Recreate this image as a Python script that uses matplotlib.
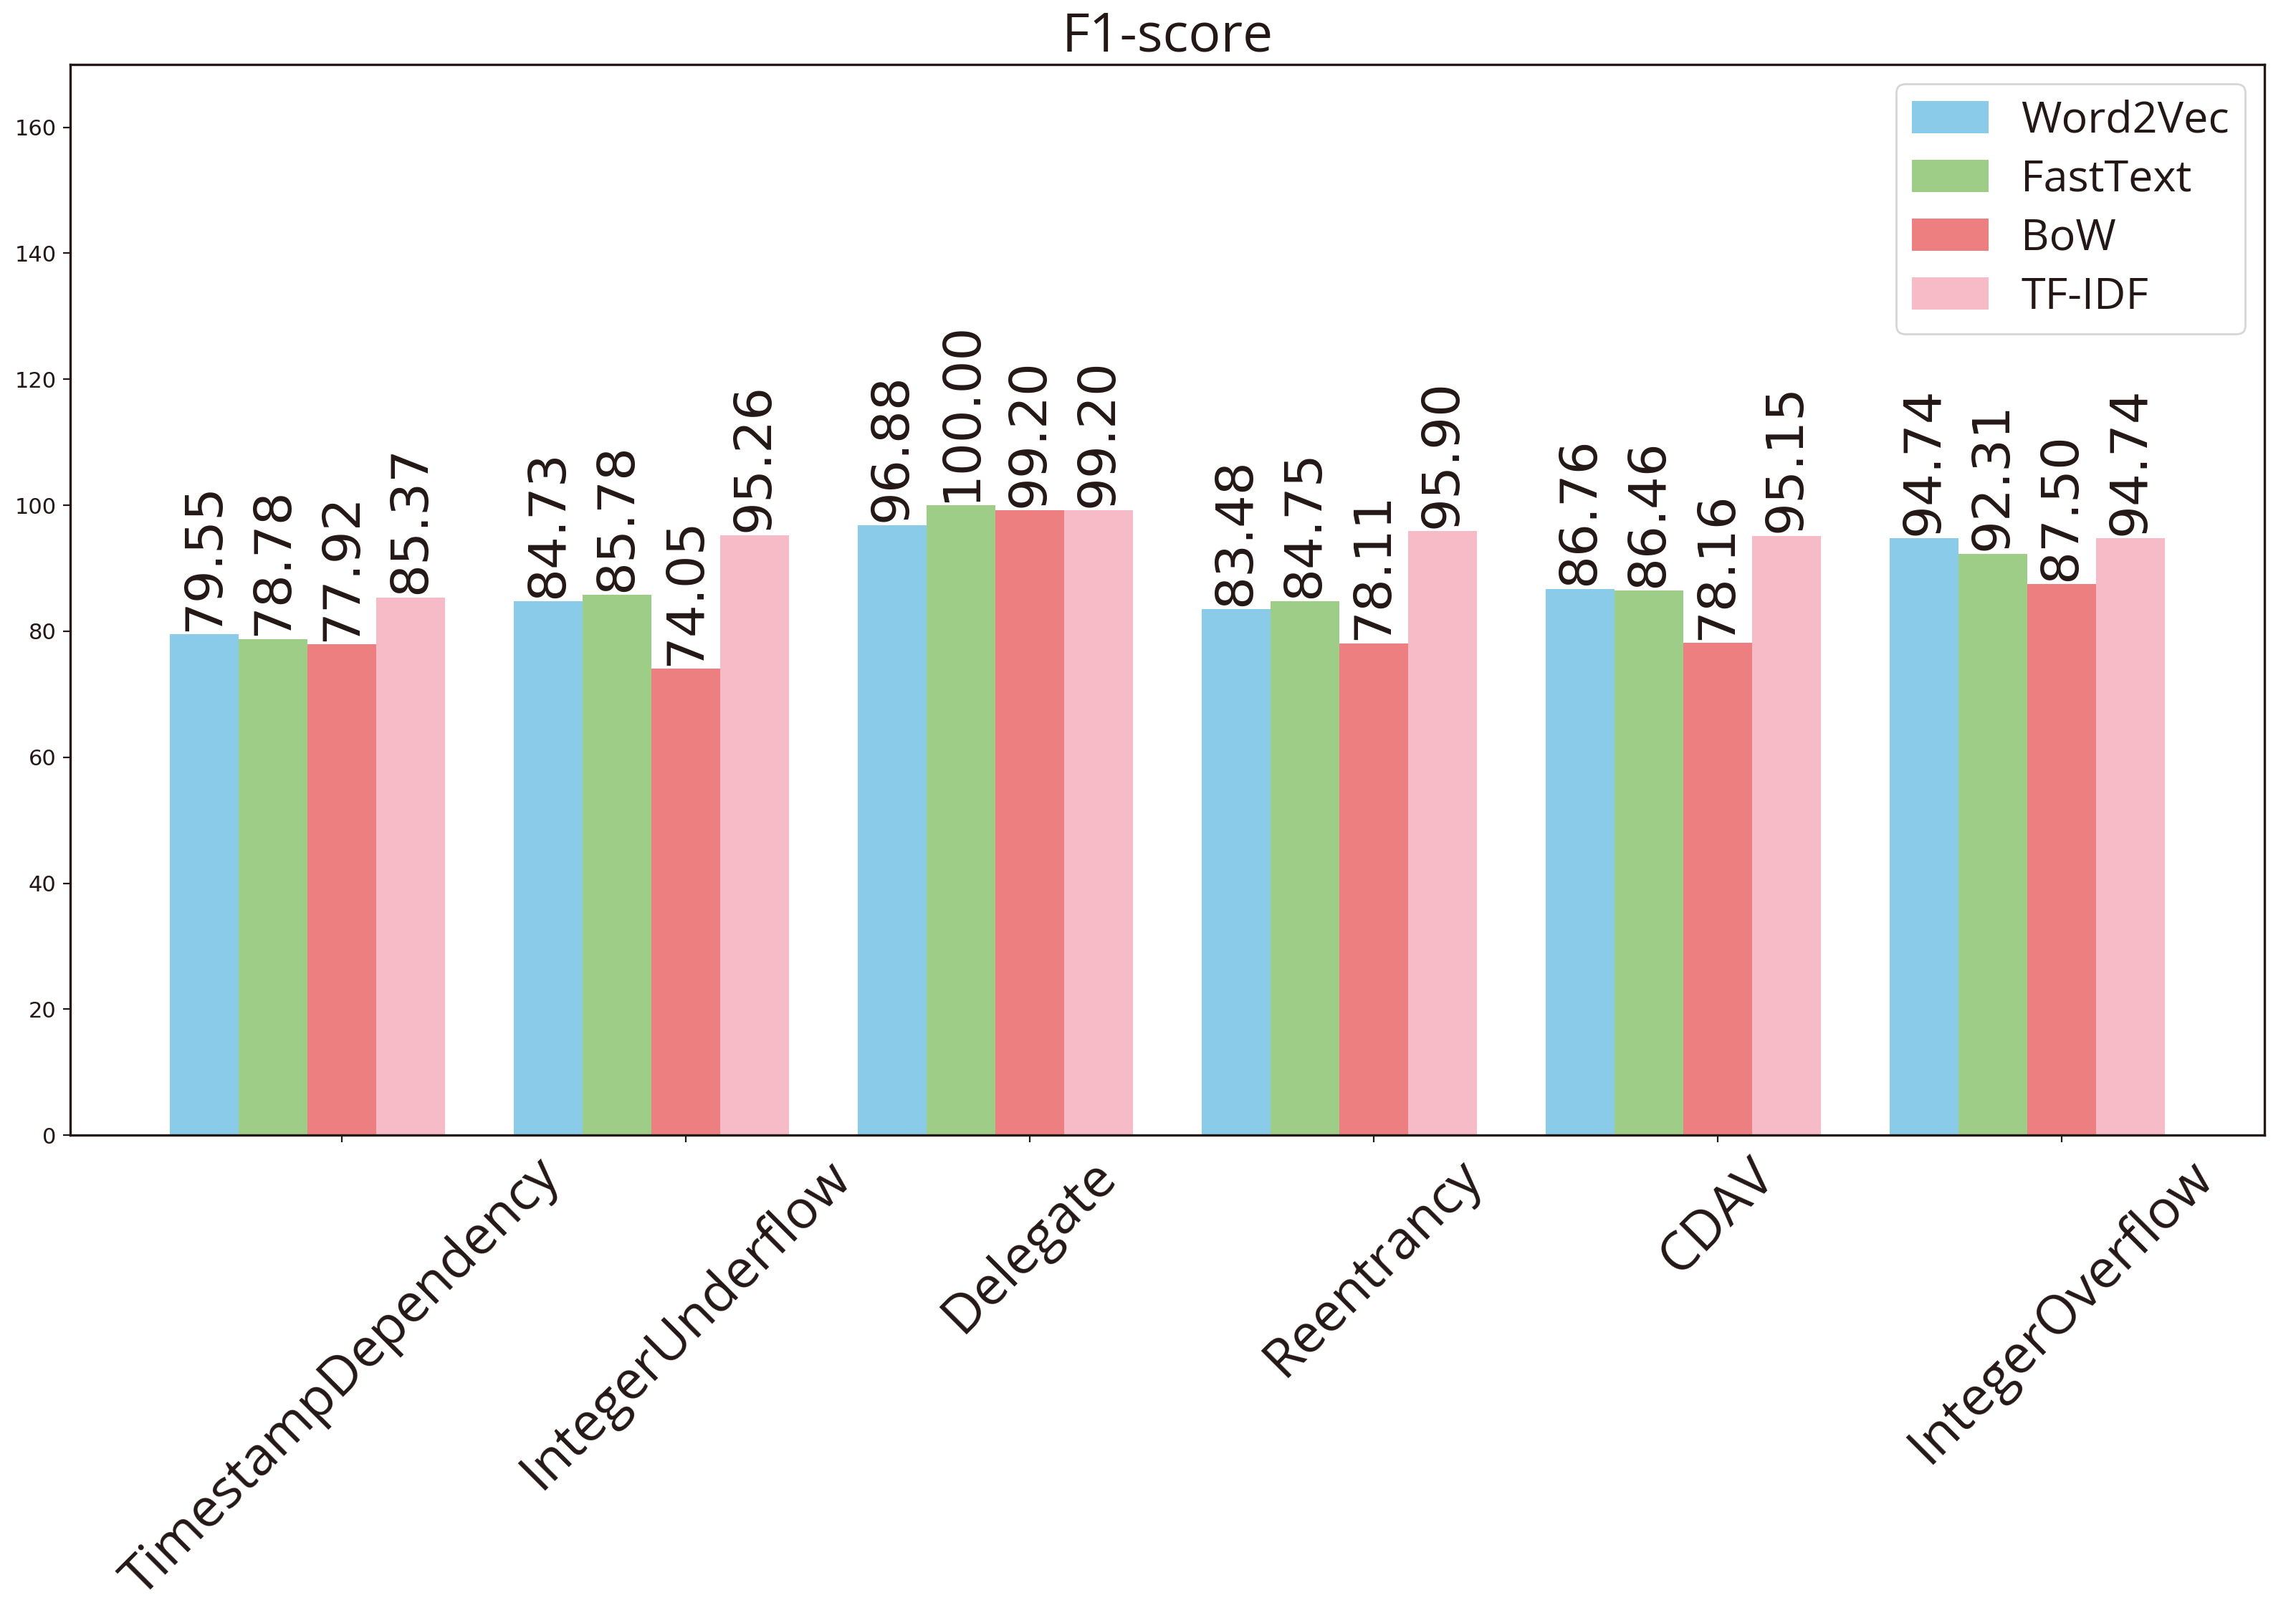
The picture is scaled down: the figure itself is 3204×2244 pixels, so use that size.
import matplotlib
matplotlib.use("Agg")
import matplotlib.pyplot as plt
import numpy as np

# data
categories = ["TimestampDependency", "IntegerUnderflow", "Delegate",
              "Reentrancy", "CDAV", "IntegerOverflow"]
word2vec = [79.55, 84.73, 96.88, 83.48, 86.76, 94.74]
fasttext = [78.78, 85.78, 100.00, 84.75, 86.46, 92.31]
bow = [77.92, 74.05, 99.20, 78.11, 78.16, 87.50]
tfidf = [85.37, 95.26, 99.20, 95.90, 95.15, 94.74]

series = [("Word2Vec", word2vec, "#89cbe9"),
          ("FastText", fasttext, "#9ecd88"),
          ("BoW", bow, "#ed7f80"),
          ("TF-IDF", tfidf, "#f6bbc7")]

ink = "#231815"
plt.rcParams["text.color"] = ink
plt.rcParams["axes.edgecolor"] = ink
plt.rcParams["xtick.color"] = ink
plt.rcParams["ytick.color"] = ink
plt.rcParams["axes.linewidth"] = 1.2

fig, ax = plt.subplots(figsize=(16.025, 11.22), dpi=200)
fig.subplots_adjust(left=0.0306, right=0.986, top=0.96, bottom=0.294)

x = np.arange(len(categories))
width = 0.2
for i, (name, vals, col) in enumerate(series):
    bars = ax.bar(x + i * width, vals, width, label=name, color=col)
    for b in bars:
        ax.text(b.get_x() + b.get_width() / 2, b.get_height() + 0.5,
                f"{b.get_height():.2f}", rotation=90, ha="center", va="bottom",
                fontsize=26, family="DejaVu Sans")

ax.set_xticks(x + 2 * width)
ax.set_xticklabels(categories, rotation=45, fontsize=27, family="Open Sans")
ax.set_ylim(0, 170)
ax.tick_params(axis="y", labelsize=11)
ax.set_title("F1-score", fontsize=27, family="Open Sans")
ax.legend(loc="upper right", prop={"family": "Open Sans", "size": 22},
          handlelength=1.75, handleheight=0.75, handletextpad=0.75,
          labelspacing=0.36, borderpad=0.35, borderaxespad=0.45)

fig.savefig("out.png", dpi=200)
